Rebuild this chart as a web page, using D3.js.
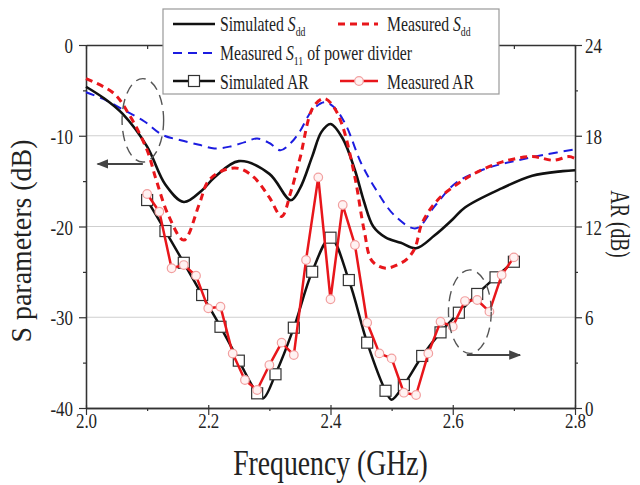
<!DOCTYPE html>
<html>
<head>
<meta charset="UTF-8">
<title>S parameters and AR</title>
<script src="https://d3js.org/d3.v7.min.js"></script>
<style>
  body { margin: 0; padding: 0; background: #fff; }
  svg text { font-family: "Liberation Serif", serif; fill: #222; }
</style>
</head>
<body>
<svg id="chart" width="640" height="485" font-family="Liberation Serif"></svg>
<script>
// ---- data ----
const simSddFreq = [2.00, 2.03, 2.06, 2.10, 2.13, 2.16, 2.19, 2.21, 2.25, 2.30, 2.335, 2.35, 2.37, 2.385, 2.40, 2.42, 2.44, 2.455, 2.47, 2.49, 2.515, 2.54, 2.57, 2.60, 2.62, 2.68, 2.73, 2.78, 2.80];
const simSdd     = [-4.6, -5.9, -7.6, -11.2, -15.4, -17.3, -16.0, -14.6, -12.8, -14.2, -17.1, -15.8, -12.3, -9.6, -8.7, -10.3, -13.8, -17.3, -20.0, -21.2, -21.8, -22.4, -21.0, -19.2, -17.9, -15.8, -14.4, -13.9, -13.8];

const measSddFreq = [2.00, 2.045, 2.07, 2.10, 2.115, 2.135, 2.16, 2.185, 2.20, 2.225, 2.25, 2.275, 2.30, 2.32, 2.335, 2.35, 2.372, 2.39, 2.405, 2.42, 2.44, 2.455, 2.468, 2.49, 2.51, 2.525, 2.538, 2.55, 2.575, 2.61, 2.64, 2.68, 2.73, 2.765, 2.79, 2.80];
const measSdd     = [-3.7, -5.3, -7.6, -11.6, -14.9, -18.8, -21.5, -17.6, -15.0, -13.8, -13.6, -14.6, -16.8, -18.9, -16.2, -12.5, -6.8, -5.9, -6.8, -9.0, -14.6, -20.4, -23.8, -24.6, -24.2, -23.6, -22.4, -19.6, -17.1, -15.2, -14.0, -12.9, -12.3, -12.7, -12.3, -12.5];

const s11Freq = [2.00, 2.03, 2.06, 2.095, 2.125, 2.155, 2.185, 2.21, 2.235, 2.26, 2.28, 2.30, 2.318, 2.335, 2.35, 2.37, 2.39, 2.405, 2.425, 2.45, 2.475, 2.505, 2.54, 2.57, 2.605, 2.655, 2.70, 2.75, 2.80];
const s11     = [-5.2, -6.0, -7.1, -8.4, -9.9, -10.5, -11.0, -11.4, -11.2, -10.7, -10.3, -10.8, -11.6, -10.8, -9.5, -7.2, -6.3, -6.8, -8.8, -13.0, -16.0, -18.8, -20.2, -17.8, -15.2, -13.6, -12.8, -12.1, -11.5];

const simARFreq = [2.10, 2.13, 2.16, 2.19, 2.22, 2.25, 2.28, 2.29, 2.31, 2.34, 2.37, 2.40, 2.43, 2.46, 2.49, 2.50, 2.52, 2.55, 2.58, 2.61, 2.64, 2.67, 2.70];
const simAR     = [13.75, 11.7, 9.6, 7.47, 5.37, 3.13, 0.97, 0.65, 2.23, 5.31, 9.01, 11.26, 8.46, 4.32, 1.14, 0.55, 1.52, 3.44, 5.0, 6.3, 7.54, 8.64, 9.67];
const simARMarks = [2.10, 2.13, 2.16, 2.19, 2.22, 2.25, 2.28, 2.31, 2.34, 2.37, 2.40, 2.43, 2.46, 2.49, 2.52, 2.55, 2.58, 2.61, 2.64, 2.67, 2.70];

const measARFreq = [2.10, 2.12, 2.14, 2.16, 2.18, 2.20, 2.22, 2.24, 2.26, 2.28, 2.30, 2.32, 2.34, 2.36, 2.38, 2.40, 2.42, 2.44, 2.46, 2.48, 2.50, 2.52, 2.54, 2.56, 2.58, 2.60, 2.62, 2.64, 2.66, 2.68, 2.70];
const measAR     = [14.15, 12.98, 9.24, 9.45, 8.75, 6.59, 6.7, 3.6, 1.85, 1.19, 2.84, 4.32, 3.5, 9.79, 15.25, 7.19, 13.42, 10.78, 5.64, 3.61, 3.28, 1.01, 0.86, 3.61, 5.71, 5.38, 7.07, 7.14, 6.37, 8.79, 9.96];

const xTicks = [2.0, 2.2, 2.4, 2.6, 2.8];
const xMinor = [2.1, 2.3, 2.5, 2.7];
const leftTicks = [0, -10, -20, -30, -40];
const leftMinor = [-5, -15, -25, -35];
const rightTicks = [0, 6, 12, 18, 24];
const rightMinor = [3, 9, 15, 21];

// ---- layout ----
const svg = d3.select("#chart");
const FONT = "Liberation Serif";
const L = 86, R = 575, T = 45, B = 408;
const SX = 0.77; // picture text is horizontally squeezed

const x = d3.scaleLinear().domain([2.0, 2.8]).range([L, R]);
const yL = d3.scaleLinear().domain([-40, 0]).range([B, T]);
const yR = d3.scaleLinear().domain([0, 24]).range([B, T]);

// grid
svg.append("g").selectAll("line")
  .data([-10, -20, -30]).enter().append("line")
  .attr("x1", L).attr("x2", R)
  .attr("y1", d => yL(d)).attr("y2", d => yL(d))
  .attr("stroke", "#cfcfcf").attr("stroke-width", 1);

function styleAxis(g) {
  g.attr("font-family", FONT);
  g.selectAll("path,line").attr("stroke", "#333").attr("stroke-width", 1.2);
  g.select(".domain").attr("stroke-width", 1.3);
}

// bottom
svg.append("g").attr("transform", `translate(0,${B})`)
  .call(d3.axisBottom(x).tickValues(xMinor).tickSize(3).tickFormat("").tickSizeOuter(0)).call(styleAxis);
const gx = svg.append("g").attr("transform", `translate(0,${B})`)
  .call(d3.axisBottom(x).tickValues(xTicks).tickSize(7).tickFormat(d3.format(".1f")).tickSizeOuter(0)).call(styleAxis);
gx.selectAll(".tick line").attr("y1", -3);
gx.selectAll("text").attr("font-size", 22).attr("y", 0).attr("dy", 0)
  .attr("transform", `translate(0,20) scale(${SX},1)`).attr("fill", "#222");

// top
svg.append("g").attr("transform", `translate(0,${T})`)
  .call(d3.axisTop(x).tickValues(xTicks.concat(xMinor)).tickSize(-4).tickFormat("").tickSizeOuter(0)).call(styleAxis);

// left
svg.append("g").attr("transform", `translate(${L},0)`)
  .call(d3.axisLeft(yL).tickValues(leftMinor).tickSize(3).tickFormat("").tickSizeOuter(0)).call(styleAxis);
const gl = svg.append("g").attr("transform", `translate(${L},0)`)
  .call(d3.axisLeft(yL).tickValues(leftTicks).tickSize(7).tickFormat(d => String(d)).tickSizeOuter(0)).call(styleAxis);
gl.selectAll("text").attr("font-size", 22).attr("x", 0).attr("dy", 0)
  .attr("transform", `translate(-13,7.5) scale(${SX},1)`).attr("fill", "#222");

// right
svg.append("g").attr("transform", `translate(${R},0)`)
  .call(d3.axisRight(yR).tickValues(rightMinor).tickSize(3).tickFormat("").tickSizeOuter(0)).call(styleAxis);
const gr = svg.append("g").attr("transform", `translate(${R},0)`)
  .call(d3.axisRight(yR).tickValues(rightTicks).tickSize(7).tickFormat(d => String(d)).tickSizeOuter(0)).call(styleAxis);
gr.selectAll("text").attr("font-size", 22).attr("x", 0).attr("dy", 0)
  .attr("transform", `translate(10,7.5) scale(${SX},1)`).attr("fill", "#222");

// axis titles
svg.append("text").attr("font-family", FONT).attr("font-size", 36).attr("text-anchor", "middle")
  .attr("transform", `translate(${(L + R) / 2},475) scale(${SX},1)`).text("Frequency (GHz)");
svg.append("text").attr("font-family", FONT).attr("font-size", 30).attr("text-anchor", "middle")
  .attr("transform", "translate(31,241) rotate(-90) scale(0.93,1)").text("S parameters (dB)");
svg.append("text").attr("font-family", FONT).attr("font-size", 27).attr("text-anchor", "middle")
  .attr("transform", "translate(611,224) rotate(90) scale(0.72,1)").text("AR (dB)");

// ---- S parameter curves ----
const zip = (fs, vs) => fs.map((f, i) => [f, vs[i]]);
const lineL = d3.line().x(d => x(d[0])).y(d => yL(d[1])).curve(d3.curveCatmullRom.alpha(0.5));

svg.append("path").datum(zip(s11Freq, s11)).attr("d", lineL)
  .attr("fill", "none").attr("stroke", "#1c1ce0").attr("stroke-width", 2).attr("stroke-dasharray", "9,6");
svg.append("path").datum(zip(simSddFreq, simSdd)).attr("d", lineL)
  .attr("fill", "none").attr("stroke", "#111").attr("stroke-width", 2.6);
svg.append("path").datum(zip(measSddFreq, measSdd)).attr("d", lineL)
  .attr("fill", "none").attr("stroke", "#e8161b").attr("stroke-width", 3).attr("stroke-dasharray", "7,5");

// ---- AR curves ----
const simARData = zip(simARFreq, simAR);
svg.append("path").datum(simARData)
  .attr("d", d3.line().x(d => x(d[0])).y(d => yR(d[1])).curve(d3.curveCatmullRom.alpha(0.5)))
  .attr("fill", "none").attr("stroke", "#111").attr("stroke-width", 2.5);
svg.append("g").selectAll("rect")
  .data(simARData.filter(d => simARMarks.includes(d[0]))).enter().append("rect")
  .attr("x", d => x(d[0]) - 5.5).attr("y", d => yR(d[1]) - 5.5)
  .attr("width", 11).attr("height", 11)
  .attr("fill", "#fff").attr("stroke", "#333").attr("stroke-width", 1.2);

const measARData = zip(measARFreq, measAR);
svg.append("path").datum(measARData)
  .attr("d", d3.line().x(d => x(d[0])).y(d => yR(d[1])))
  .attr("fill", "none").attr("stroke", "#e8161b").attr("stroke-width", 2.5).attr("stroke-linejoin", "round");
svg.append("g").selectAll("circle")
  .data(measARData).enter().append("circle")
  .attr("cx", d => x(d[0])).attr("cy", d => yR(d[1])).attr("r", 4.3)
  .attr("fill", "#fff2f2").attr("stroke", "#f2a0a0").attr("stroke-width", 1.2);

// ---- annotations: dashed ellipses with arrows ----
const defs = svg.append("defs");
defs.append("marker").attr("id", "ah").attr("viewBox", "0 0 10 10")
  .attr("refX", 9).attr("refY", 5).attr("markerWidth", 6).attr("markerHeight", 6)
  .attr("markerUnits", "strokeWidth").attr("orient", "auto")
  .append("path").attr("d", "M0,1 L10,5 L0,9 Z").attr("fill", "#444");

function ellipse(cx, cy, rx, ry) {
  svg.append("ellipse").attr("cx", cx).attr("cy", cy).attr("rx", rx).attr("ry", ry)
    .attr("fill", "none").attr("stroke", "#555").attr("stroke-width", 1.4).attr("stroke-dasharray", "10,6");
}
function arrow(x1, y1, x2, y2) {
  svg.append("line").attr("x1", x1).attr("y1", y1).attr("x2", x2).attr("y2", y2)
    .attr("stroke", "#444").attr("stroke-width", 2).attr("marker-end", "url(#ah)");
}
ellipse(x(2.093), yL(-8.3), x(2.127) - x(2.093), yL(-12.9) - yL(-8.3));
arrow(x(2.093), yL(-13.1), x(2.019), yL(-13.1));
ellipse(x(2.628), yR(6.37), x(2.663) - x(2.628), yR(3.61) - yR(6.37));
arrow(x(2.623), yR(3.5), x(2.71), yR(3.5));

// ---- legend ----
const lg = svg.append("g").attr("font-family", FONT);
lg.append("rect").attr("x", 163).attr("y", 9).attr("width", 336).attr("height", 85)
  .attr("fill", "#fff").attr("stroke", "#999").attr("stroke-width", 1.2);

function legText(tx, ty, parts) {
  const t = lg.append("text").attr("font-family", FONT).attr("font-size", 21)
    .attr("transform", `translate(${tx},${ty}) scale(0.75,1)`);
  parts.forEach(p => {
    const s = t.append("tspan").text(p.t);
    if (p.i) s.attr("font-style", "italic");
    if (p.sub) s.attr("font-size", 13).attr("dy", 5);
    if (p.back) s.attr("dy", -5);
  });
}
function legLine(x1, x2, y, color, width, dash) {
  const l = lg.append("line").attr("x1", x1).attr("x2", x2).attr("y1", y).attr("y2", y)
    .attr("stroke", color).attr("stroke-width", width);
  if (dash) l.attr("stroke-dasharray", dash);
}

legLine(173, 215, 24, "#111", 2.6);
legText(220, 31, [{ t: "Simulated " }, { t: "S", i: true }, { t: "dd", sub: true }]);
legLine(338, 378, 24, "#e8161b", 3, "7,5");
legText(387, 31, [{ t: "Measured " }, { t: "S", i: true }, { t: "dd", sub: true }]);

legLine(173, 215, 53, "#1c1ce0", 2, "9,6");
legText(220, 60, [{ t: "Measured " }, { t: "S", i: true }, { t: "11", sub: true }, { t: " of power divider", back: true }]);

legLine(173, 215, 81, "#111", 2.5);
lg.append("rect").attr("x", 194 - 5.5).attr("y", 81 - 5.5).attr("width", 11).attr("height", 11)
  .attr("fill", "#fff").attr("stroke", "#333").attr("stroke-width", 1.2);
legText(220, 89, [{ t: "Simulated AR" }]);
legLine(340, 378, 81, "#e8161b", 2.5);
lg.append("circle").attr("cx", 359).attr("cy", 81).attr("r", 4.3)
  .attr("fill", "#fff2f2").attr("stroke", "#f2a0a0").attr("stroke-width", 1.2);
legText(387, 89, [{ t: "Measured AR" }]);
</script>
</body>
</html>
